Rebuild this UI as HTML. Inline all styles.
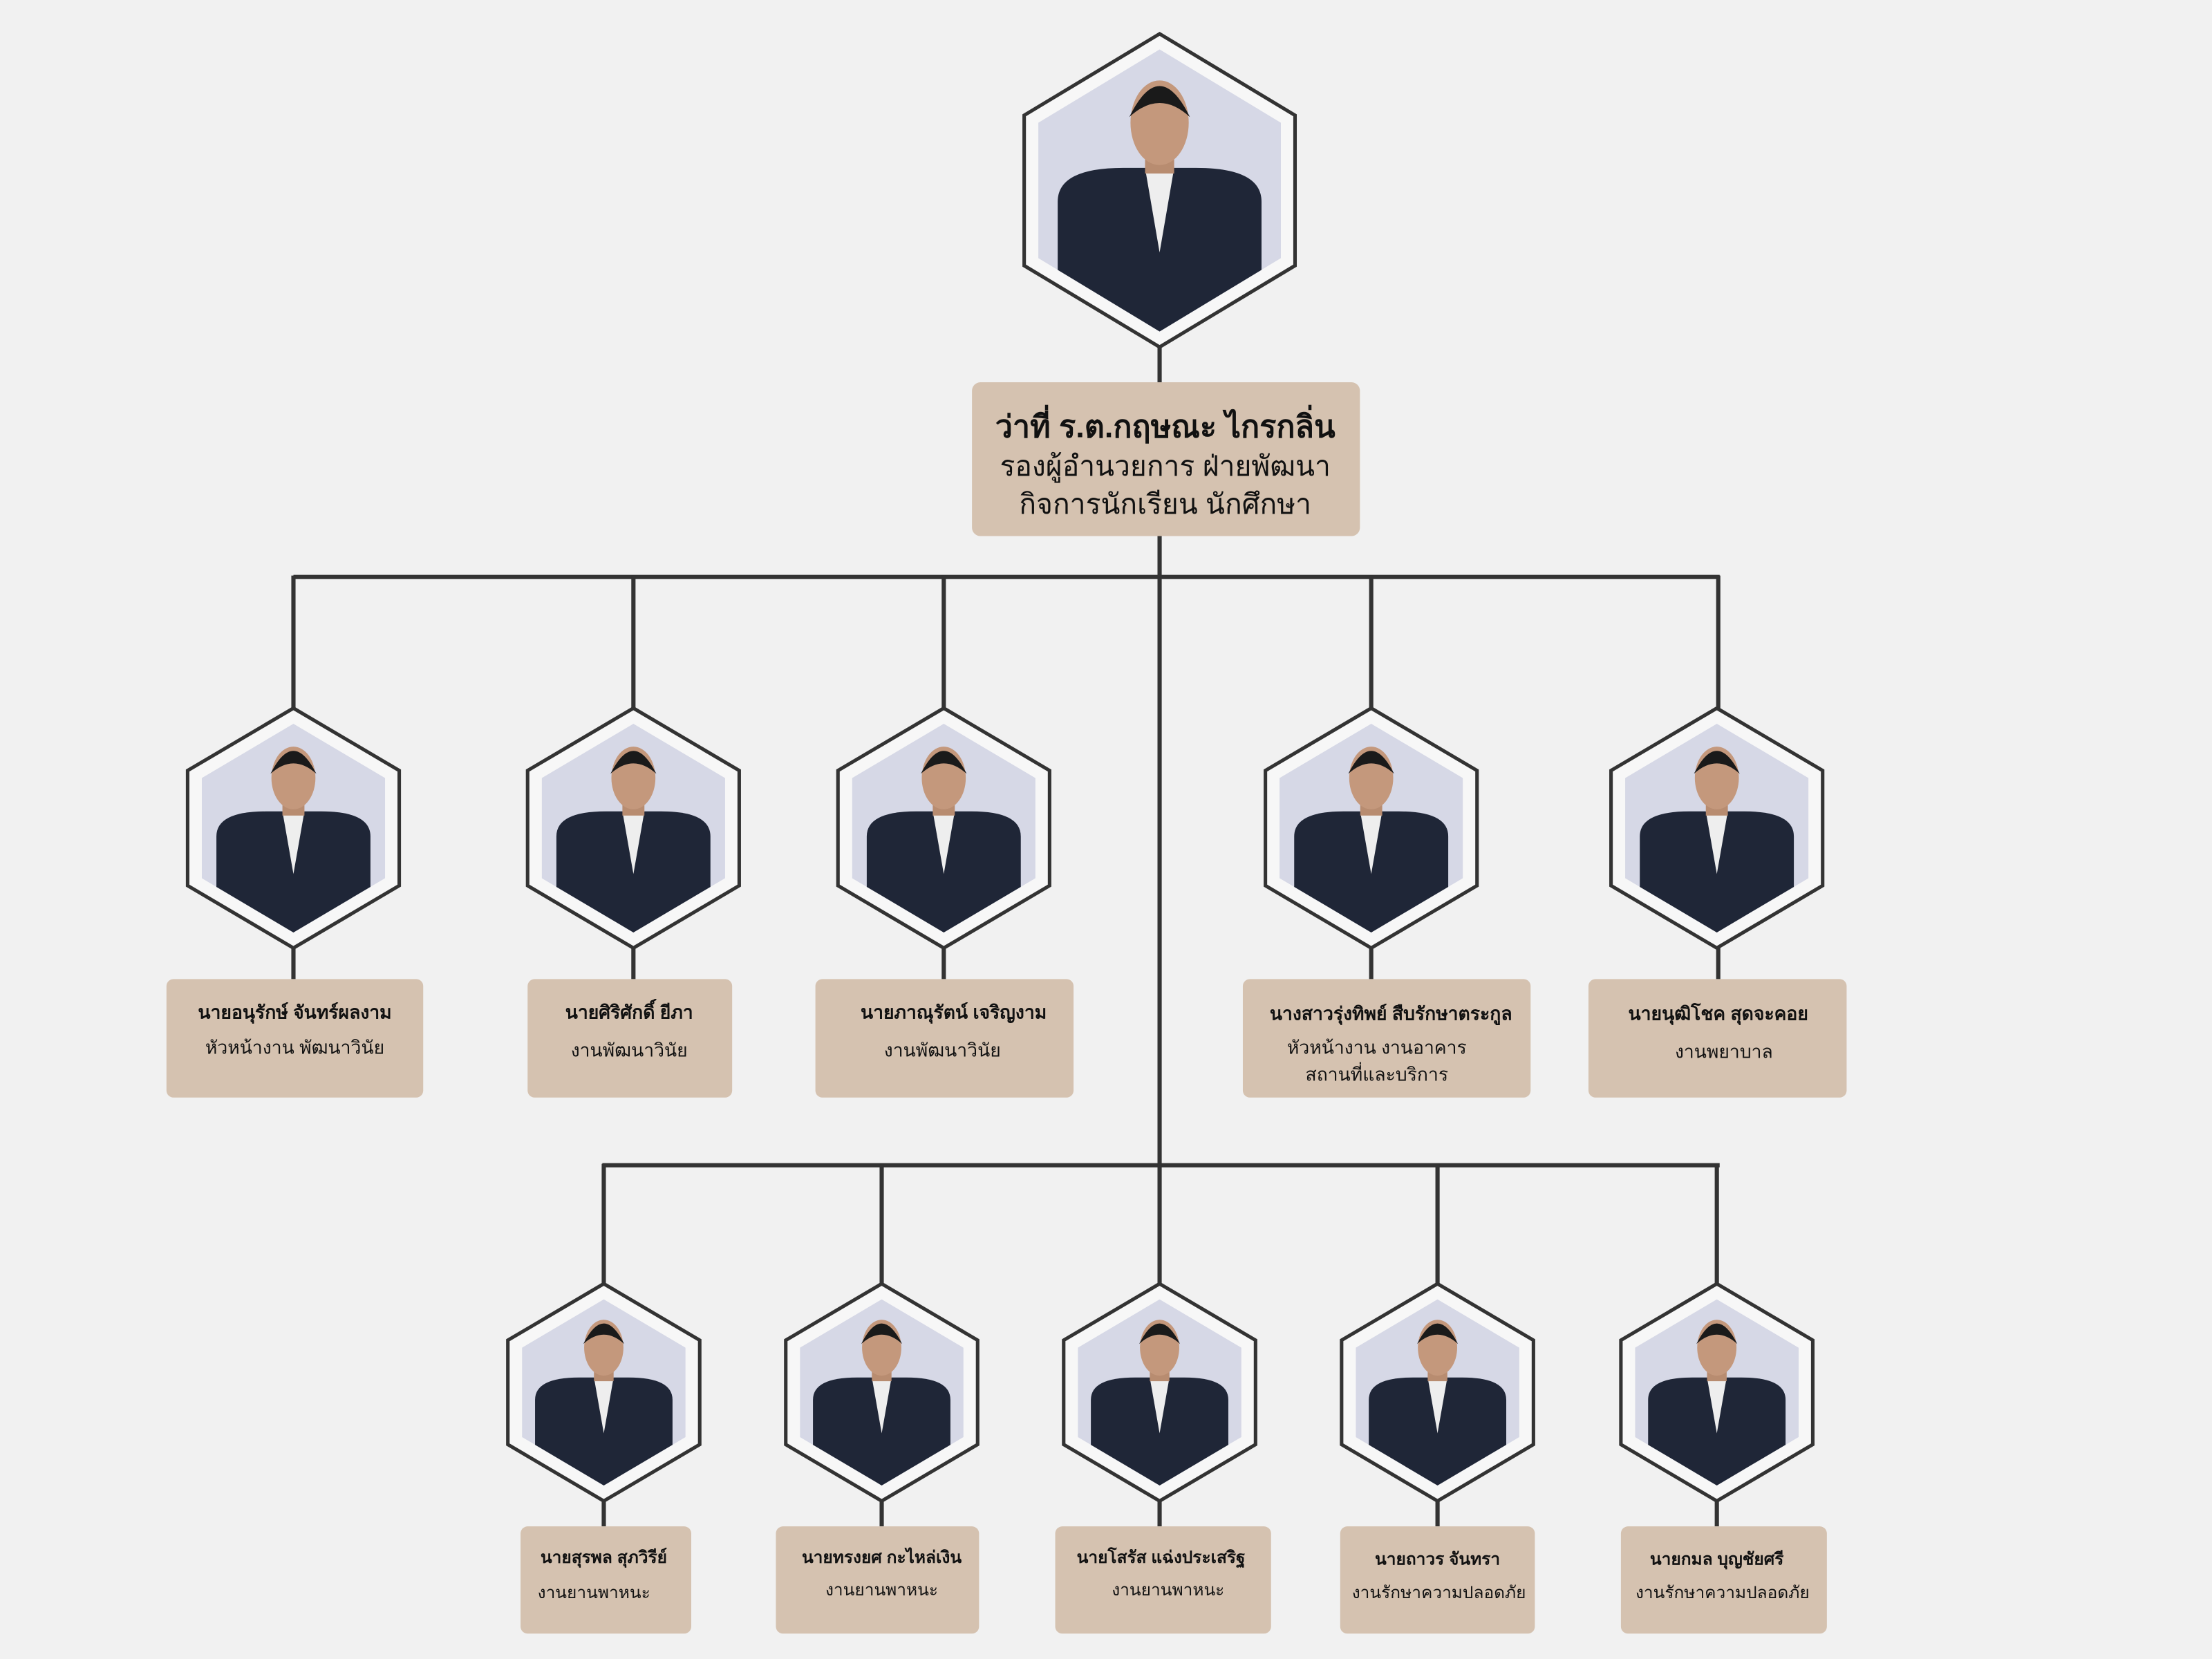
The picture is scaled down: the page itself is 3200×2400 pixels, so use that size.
<!DOCTYPE html>
<html><head><meta charset="utf-8"><style>
html,body{margin:0;padding:0;background:#f1f1f1;width:3200px;height:2400px;overflow:hidden}
svg{display:block}
text{font-family:"Liberation Sans","Noto Sans CJK SC",sans-serif;fill:#111;text-anchor:middle}
.b{font-weight:bold}
</style></head><body>
<svg id="s" width="3200" height="2400" viewBox="0 0 1568 1176" xmlns="http://www.w3.org/2000/svg">
<rect width="1568" height="1176" fill="#f1f1f1"/>
<g stroke="#333" stroke-width="3" fill="none">
<line x1="822" y1="246" x2="822" y2="271"/>
<line x1="822" y1="380" x2="822" y2="826"/>
<line x1="208" y1="409" x2="1219" y2="409"/>
<line x1="208" y1="408" x2="208" y2="502"/><line x1="449" y1="408" x2="449" y2="502"/>
<line x1="669" y1="408" x2="669" y2="502"/><line x1="972" y1="408" x2="972" y2="502"/>
<line x1="1218" y1="408" x2="1218" y2="502"/>
<line x1="208" y1="672" x2="208" y2="694"/><line x1="449" y1="672" x2="449" y2="694"/>
<line x1="669" y1="672" x2="669" y2="694"/><line x1="972" y1="672" x2="972" y2="694"/>
<line x1="1218" y1="672" x2="1218" y2="694"/>
<line x1="427" y1="826" x2="1219" y2="826"/>
<line x1="428" y1="825" x2="428" y2="910"/><line x1="625" y1="825" x2="625" y2="910"/>
<line x1="822" y1="825" x2="822" y2="910"/><line x1="1019" y1="825" x2="1019" y2="910"/>
<line x1="1217" y1="825" x2="1217" y2="910"/>
<line x1="428" y1="1064" x2="428" y2="1082"/><line x1="625" y1="1064" x2="625" y2="1082"/>
<line x1="822" y1="1064" x2="822" y2="1082"/><line x1="1019" y1="1064" x2="1019" y2="1082"/>
<line x1="1217" y1="1064" x2="1217" y2="1082"/>
</g>
<g id="hex"></g>
<g fill="#d5c2b0">
<rect x="689" y="271" width="275" height="109" rx="6"/>
<rect x="118" y="694" width="182" height="84" rx="5"/>
<rect x="374" y="694" width="145" height="84" rx="5"/>
<rect x="578" y="694" width="183" height="84" rx="5"/>
<rect x="881" y="694" width="204" height="84" rx="5"/>
<rect x="1126" y="694" width="183" height="84" rx="5"/>
<rect x="369" y="1082" width="121" height="76" rx="5"/>
<rect x="550" y="1082" width="144" height="76" rx="5"/>
<rect x="748" y="1082" width="153" height="76" rx="5"/>
<rect x="950" y="1082" width="138" height="76" rx="5"/>
<rect x="1149" y="1082" width="146" height="76" rx="5"/>
</g>
<text x="826" y="310" class="b" font-size="22">ว่าที่ ร.ต.กฤษณะ ไกรกลิ่น</text>
<text x="826" y="337" font-size="20">รองผู้อำนวยการ ฝ่ายพัฒนา</text>
<text x="826" y="364" font-size="20">กิจการนักเรียน นักศึกษา</text>
<g font-size="13">
<text x="209" y="722" class="b">นายอนุรักษ์ จันทร์ผลงาม</text><text x="209" y="747">หัวหน้างาน พัฒนาวินัย</text>
<text x="446" y="722" class="b">นายศิริศักดิ์ ยีภา</text><text x="446" y="749">งานพัฒนาวินัย</text>
<text x="676" y="722" class="b">นายภาณุรัตน์ เจริญงาม</text><text x="668" y="749">งานพัฒนาวินัย</text>
<text x="986" y="723" class="b">นางสาวรุ่งทิพย์ สืบรักษาตระกูล</text><text x="976" y="747">หัวหน้างาน งานอาคาร</text><text x="976" y="766">สถานที่และบริการ</text>
<text x="1218" y="723" class="b">นายนุฒิโชค สุดจะคอย</text><text x="1222" y="750">งานพยาบาล</text>
</g>
<g font-size="12">
<text x="428" y="1108" class="b">นายสุรพล สุภวิรีย์</text><text x="421" y="1133">งานยานพาหนะ</text>
<text x="625" y="1108" class="b">นายทรงยศ กะไหล่เงิน</text><text x="625" y="1131">งานยานพาหนะ</text>
<text x="823" y="1108" class="b">นายโสรัส แฉ่งประเสริฐ</text><text x="828" y="1131">งานยานพาหนะ</text>
<text x="1019" y="1109" class="b">นายถาวร จันทรา</text><text x="1020" y="1133">งานรักษาความปลอดภัย</text>
<text x="1217" y="1109" class="b">นายกมล บุญชัยศรี</text><text x="1221" y="1133">งานรักษาความปลอดภัย</text>
</g>
</svg>
<script>
var ns="http://www.w3.org/2000/svg",g=document.getElementById('hex'),n=0;
function hp(cx,t,w,h){var a=h*0.26;return [cx,t,cx+w/2,t+a,cx+w/2,t+h-a,cx,t+h,cx-w/2,t+h-a,cx-w/2,t+a].join(' ');}
function el(tag,at){var e=document.createElementNS(ns,tag);for(var k in at)e.setAttribute(k,at[k]);return e;}
function node(cx,t,w,h,dark){
 n++;g.appendChild(el('polygon',{points:hp(cx,t,w,h),fill:'#f7f7f7',stroke:'#333','stroke-width':2.5}));
 var iw=w-20,ih=h-22,it=t+11;
 var cp=el('clipPath',{id:'c'+n});cp.appendChild(el('polygon',{points:hp(cx,it,iw,ih)}));g.appendChild(cp);
 var gg=el('g',{'clip-path':'url(#c'+n+')'});
 gg.appendChild(el('polygon',{points:hp(cx,it,iw,ih),fill:'#d6d8e6'}));
 var st=it+ih*0.42,sw=iw*0.42;
 gg.appendChild(el('path',{d:'M'+(cx-sw)+' '+(it+ih+5)+' L'+(cx-sw)+' '+(st+ih*0.12)+' Q'+(cx-sw)+' '+st+' '+(cx-iw*0.15)+' '+st+' L'+(cx+iw*0.15)+' '+st+' Q'+(cx+sw)+' '+st+' '+(cx+sw)+' '+(st+ih*0.12)+' L'+(cx+sw)+' '+(it+ih+5)+'Z',fill:dark||'#1f2637'}));
 gg.appendChild(el('polygon',{points:(cx-iw*0.06)+','+st+' '+(cx+iw*0.06)+','+st+' '+cx+','+(st+ih*0.3),fill:'#eee'}));
 gg.appendChild(el('rect',{x:cx-iw*0.06,y:st-ih*0.08,width:iw*0.12,height:ih*0.1,fill:'#b88c70'}));
 gg.appendChild(el('ellipse',{cx:cx,cy:it+ih*0.26,rx:iw*0.12,ry:ih*0.15,fill:'#c4987c'}));
 gg.appendChild(el('path',{d:'M'+(cx-iw*0.125)+' '+(it+ih*0.24)+' Q'+cx+' '+(it+ih*0.02)+' '+(cx+iw*0.125)+' '+(it+ih*0.24)+' Q'+cx+' '+(it+ih*0.14)+' '+(cx-iw*0.125)+' '+(it+ih*0.24)+'Z',fill:'#1a1a1a'}));
 g.appendChild(gg);
}
node(822,24,192,222);
[208,449,669,972,1217].forEach(function(x){node(x,502,150,170);});
[428,625,822,1019,1217].forEach(function(x){node(x,910,136,154);});
</script>
</body></html>
